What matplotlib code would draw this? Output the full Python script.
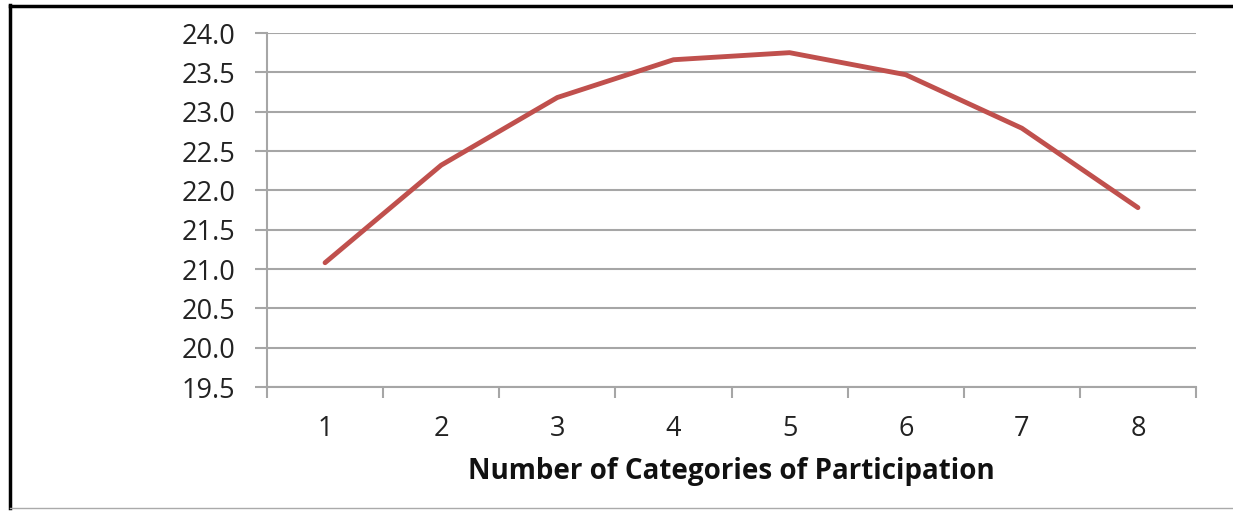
import matplotlib
matplotlib.use("Agg")
import matplotlib.pyplot as plt
from matplotlib.lines import Line2D
import numpy as np

categories = ["1", "2", "3", "4", "5", "6", "7", "8"]
values = [21.08, 22.32, 23.18, 23.66, 23.75, 23.47, 22.79, 21.78]
yticks = [19.5, 20.0, 20.5, 21.0, 21.5, 22.0, 22.5, 23.0, 23.5, 24.0]
xlabel = "Number of Categories of Participation"

plt.rcParams['font.family'] = ['Open Sans', 'DejaVu Sans']

W, H = 1233, 512
fig = plt.figure(figsize=(W/100, H/100), dpi=100)
ax = fig.add_axes([267/W, 1-387/H, (1196-267)/W, (387-33)/H])

x = np.arange(len(categories))
ax.plot(x, values, color="#C0504D", lw=3.5, solid_joinstyle="round", solid_capstyle="round", zorder=3)

ax.set_xlim(-0.5, len(categories)-0.5)
ax.set_ylim(yticks[0], yticks[-1])
ax.set_yticks(yticks)
ax.set_yticklabels([f"{v:.1f}" for v in yticks], fontsize=19.5, color="#222222")
ax.set_xticks(x)
ax.set_xticklabels(categories, fontsize=19.5, color="#222222")
ax.set_xticks(np.arange(-0.5, len(categories)), minor=True)

grid_c = "#A6A6A6"
ax.yaxis.grid(True, color=grid_c, lw=1.5)
ax.set_axisbelow(True)
for s in ["top", "right"]:
    ax.spines[s].set_visible(False)
for s in ["left", "bottom"]:
    ax.spines[s].set_color(grid_c)
    ax.spines[s].set_linewidth(1.5)

ax.tick_params(axis="y", length=9, width=1.5, color=grid_c, pad=14)
ax.tick_params(axis="x", which="major", length=0, pad=20)
ax.tick_params(axis="x", which="minor", length=8, width=1.5, color=grid_c, direction="out")

ax.set_xlabel(xlabel, fontsize=20, fontweight="bold", color="#111111", labelpad=10)

# outer frame
fig.add_artist(Line2D([10/W, 10/W], [1-508/H, 1-5/H], color="black", lw=2.5, transform=fig.transFigure))
fig.add_artist(Line2D([10/W, 1], [1-6/H, 1-6/H], color="black", lw=2.5, transform=fig.transFigure))
fig.add_artist(Line2D([10/W, 1], [1-508/H, 1-508/H], color="#AAAAAA", lw=1.0, transform=fig.transFigure))

fig.savefig("out.png", dpi=100)
